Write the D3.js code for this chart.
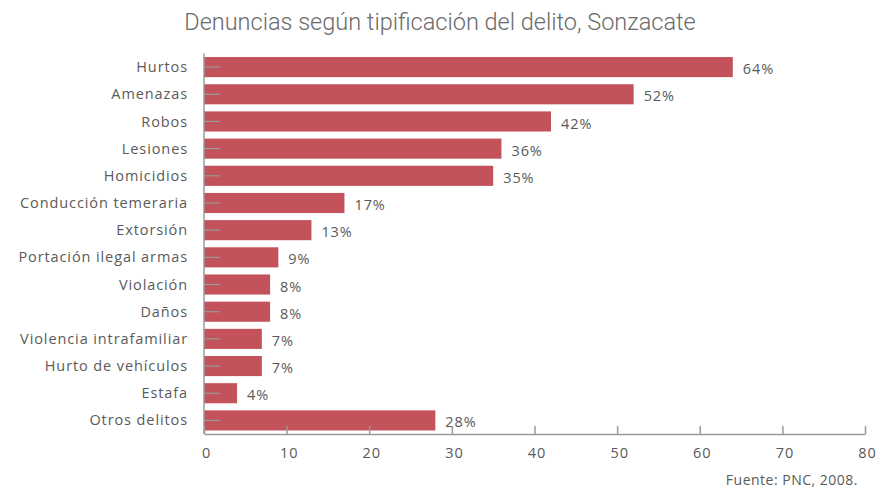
<!DOCTYPE html>
<html>
<head>
<meta charset="utf-8">
<script src="https://cdn.jsdelivr.net/npm/d3@7"></script>
<style>
  body { margin: 0; background: #fff; }
  svg { display: block; }
</style>
</head>
<body>
<svg id="chart" width="879" height="490"></svg>
<script>
// data
const categories = ["Hurtos", "Amenazas", "Robos", "Lesiones", "Homicidios",
  "Conducción temeraria", "Extorsión", "Portación ilegal armas", "Violación",
  "Daños", "Violencia intrafamiliar", "Hurto de vehículos", "Estafa", "Otros delitos"];
const values = [64, 52, 42, 36, 35, 17, 13, 9, 8, 8, 7, 7, 4, 28];
const xTicks = [0, 10, 20, 30, 40, 50, 60, 70, 80];

const margin = {top: 53.5, right: 14, bottom: 56, left: 204},
  width = 879 - margin.left - margin.right,
  height = 490 - margin.top - margin.bottom;

const font = "'Open Sans', 'DejaVu Sans', sans-serif";
const textColor = "#5a5a5a";
const axisColor = "#9a9a9a";
const spacing = "0.9px";

const svg = d3.select("#chart");
const g = svg.append("g")
  .attr("transform", "translate(" + margin.left + "," + margin.top + ")");

const x = d3.scaleLinear().domain([0, 80]).range([0, 661]);
const y = d3.scaleBand()
  .domain(categories)
  .range([0, height])
  .paddingInner(0.26)
  .paddingOuter(0.13);

// bars
g.selectAll("rect.bar")
  .data(values)
  .enter()
    .append("rect")
    .attr("class", "bar")
    .attr("x", 0)
    .attr("y", (d, i) => y(categories[i]))
    .attr("width", d => x(d))
    .attr("height", y.bandwidth())
    .style("fill", "#c4525a");

// small marks on the category axis
g.selectAll("line.ytick")
  .data(categories)
  .enter()
    .append("line")
    .attr("class", "ytick")
    .attr("x1", 0)
    .attr("x2", 16)
    .attr("y1", d => y(d) + y.bandwidth() / 2)
    .attr("y2", d => y(d) + y.bandwidth() / 2)
    .attr("stroke", axisColor)
    .attr("stroke-width", 1.2);

// category labels
g.selectAll("text.cat")
  .data(categories)
  .enter()
    .append("text")
    .attr("class", "cat")
    .attr("x", -16)
    .attr("y", d => y(d) + y.bandwidth() / 2)
    .attr("dy", "0.35em")
    .attr("text-anchor", "end")
    .style("font-family", font)
    .style("font-size", "14.5px")
    .style("letter-spacing", spacing)
    .style("fill", textColor)
    .text(d => d);

// value labels
g.selectAll("text.val")
  .data(values)
  .enter()
    .append("text")
    .attr("class", "val")
    .attr("x", d => x(d) + 10)
    .attr("y", (d, i) => y(categories[i]) + y.bandwidth() / 2 + 2)
    .attr("dy", "0.35em")
    .style("font-family", font)
    .style("font-size", "14.5px")
    .style("letter-spacing", spacing)
    .style("fill", textColor)
    .text(d => d + "%");

// x axis
const xAxis = g.append("g")
  .attr("transform", "translate(0," + height + ")")
  .call(d3.axisBottom(x).tickValues(xTicks).tickSize(-8).tickPadding(14).tickSizeOuter(0));
xAxis.select(".domain").attr("stroke", axisColor).attr("stroke-width", 1.5);
xAxis.selectAll(".tick line").attr("stroke", axisColor).attr("stroke-width", 1.5);
xAxis.selectAll(".tick text")
  .attr("dx", 2)
  .style("font-family", font)
  .style("font-size", "14.5px")
  .style("letter-spacing", spacing)
  .style("fill", textColor);

// y axis line
g.append("line")
  .attr("x1", 0).attr("x2", 0)
  .attr("y1", 0).attr("y2", height)
  .attr("stroke", axisColor)
  .attr("stroke-width", 1.5);

// title
svg.append("text")
  .attr("x", 440)
  .attr("y", 30)
  .attr("text-anchor", "middle")
  .style("font-family", "Roboto, 'Liberation Sans', sans-serif")
  .style("font-weight", 300)
  .style("font-size", "23.5px")
  .style("fill", "#6a6a6a")
  .text("Denuncias según tipificación del delito, Sonzacate");

// source
svg.append("text")
  .attr("x", 858)
  .attr("y", 485)
  .attr("text-anchor", "end")
  .style("font-family", font)
  .style("font-size", "14px")
  .style("letter-spacing", "0.5px")
  .style("fill", textColor)
  .text("Fuente: PNC, 2008.");
</script>
</body>
</html>
